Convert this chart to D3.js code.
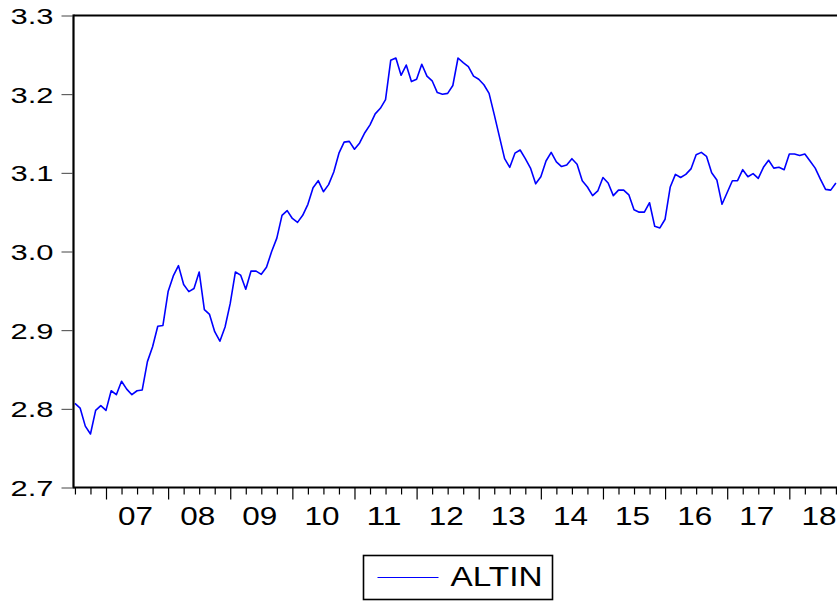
<!DOCTYPE html>
<html>
<head>
<meta charset="utf-8">
<script src="https://cdn.jsdelivr.net/npm/d3@7"></script>
<style>
  body { margin: 0; background: #fff; }
  svg { display: block; }
  text { font-family: Arial, "Liberation Sans", sans-serif; fill: #000; }
</style>
</head>
<body>
<svg id="chart" width="837" height="602"></svg>
<script>
// Monthly series, first observation 2006M07
const seriesName = "ALTIN";
const firstYear = 2006;
const firstMonth = 7;
const altin = [
  2.807, 2.801, 2.778, 2.768, 2.798, 2.804,
  2.798, 2.823, 2.818, 2.835, 2.825, 2.818, 2.823, 2.824, 2.860, 2.879, 2.905, 2.906,
  2.949, 2.969, 2.982, 2.958, 2.949, 2.953, 2.974, 2.926, 2.920, 2.898, 2.886, 2.904,
  2.934, 2.974, 2.970, 2.952, 2.975, 2.975, 2.971, 2.980, 3.000, 3.017, 3.046, 3.052,
  3.042, 3.037, 3.046, 3.060, 3.081, 3.090, 3.076, 3.085, 3.101, 3.125, 3.139, 3.140,
  3.130, 3.138, 3.151, 3.161, 3.175, 3.182, 3.193, 3.243, 3.246, 3.224, 3.237, 3.216,
  3.219, 3.238, 3.223, 3.217, 3.202, 3.200, 3.201, 3.211, 3.246, 3.240, 3.235, 3.223,
  3.219, 3.212, 3.201, 3.174, 3.146, 3.118, 3.107, 3.125, 3.129, 3.118, 3.106, 3.086,
  3.095, 3.115, 3.126, 3.114, 3.108, 3.110,
  3.118, 3.111, 3.090, 3.082, 3.071, 3.077, 3.094, 3.087, 3.071, 3.078, 3.078, 3.072,
  3.053, 3.050, 3.050, 3.062, 3.032, 3.030, 3.041, 3.082, 3.098, 3.094, 3.098, 3.105,
  3.123, 3.126, 3.121, 3.100, 3.091, 3.060, 3.075, 3.090, 3.090, 3.104, 3.095, 3.099,
  3.093, 3.107, 3.116, 3.106, 3.107, 3.104, 3.124, 3.124, 3.122, 3.124, 3.115, 3.106,
  3.092, 3.079, 3.078, 3.087
];
const yearLabels = ["07", "08", "09", "10", "11", "12", "13", "14", "15", "16", "17", "18"];
const yTicks = [2.7, 2.8, 2.9, 3.0, 3.1, 3.2, 3.3];

const svg = d3.select("#chart");

const frame = { left: 73.5, top: 15.5, bottom: 487.5, right: 846 };
const pxPerYear = 62.12;
const firstLabelYear = 2007;

// time in decimal years -> pixel
const x = d3.scaleLinear()
  .domain([firstLabelYear, firstLabelYear + 11])
  .range([106, 106 + 11 * pxPerYear]);
const y = d3.scaleLinear().domain([2.7, 3.3]).range([frame.bottom, frame.top]);

const t = i => firstYear + (firstMonth - 1) / 12 + i / 12;

// clip to plot area
svg.append("defs").append("clipPath").attr("id", "plotClip")
  .append("rect")
  .attr("x", frame.left).attr("y", frame.top)
  .attr("width", frame.right - frame.left).attr("height", frame.bottom - frame.top);

// series line
svg.append("path")
  .datum(altin)
  .attr("clip-path", "url(#plotClip)")
  .attr("fill", "none")
  .attr("stroke", "#0000ff")
  .attr("stroke-width", 1.6)
  .attr("stroke-linejoin", "round")
  .attr("d", d3.line().x((d, i) => x(t(i))).y(d => y(d)));

// left axis ticks and labels
const yAxis = svg.append("g")
  .attr("transform", `translate(${frame.left - 1},0)`)
  .call(d3.axisLeft(y).tickValues(yTicks).tickFormat(d3.format(".1f"))
    .tickSize(11).tickSizeOuter(0).tickPadding(8));
yAxis.select(".domain").remove();
yAxis.selectAll(".tick line").attr("stroke", "#444").attr("stroke-width", 1);
yAxis.selectAll(".tick text")
  .attr("font-size", 22)
  .attr("textLength", 43)
  .attr("lengthAdjust", "spacingAndGlyphs")
  .attr("dy", "0.36em");

// bottom axis: quarterly minor ticks, yearly major ticks
const quarters = d3.range(2006.5, 2019.0, 0.25).filter(q => Math.abs(q - Math.round(q)) > 1e-6);
const years = d3.range(2007, 2019);

const xMinor = svg.append("g")
  .attr("transform", `translate(0,${frame.bottom})`)
  .call(d3.axisBottom(x).tickValues(quarters).tickSize(7).tickSizeOuter(0).tickFormat(""));
xMinor.select(".domain").remove();
xMinor.selectAll(".tick line").attr("stroke", "#000").attr("stroke-width", 1.2);

const xMajor = svg.append("g")
  .attr("transform", `translate(0,${frame.bottom})`)
  .call(d3.axisBottom(x).tickValues(years).tickSize(12).tickSizeOuter(0).tickFormat(""));
xMajor.select(".domain").remove();
xMajor.selectAll(".tick line").attr("stroke", "#000").attr("stroke-width", 1.2);

const xLabels = svg.append("g")
  .attr("transform", `translate(-2,${frame.bottom})`)
  .call(d3.axisBottom(x).tickValues(years.map(yr => yr + 0.5))
    .tickSize(0).tickSizeOuter(0).tickPadding(20)
    .tickFormat((d, i) => yearLabels[i]));
xLabels.select(".domain").remove();
xLabels.selectAll(".tick text")
  .attr("font-size", 25)
  .attr("textLength", 35)
  .attr("lengthAdjust", "spacingAndGlyphs");

// frame: left, top, bottom borders
const border = svg.append("g").attr("stroke", "#000").attr("stroke-width", 2.2).attr("fill", "none");
border.append("line").attr("x1", frame.left).attr("x2", frame.left).attr("y1", frame.top - 1).attr("y2", frame.bottom + 1);
border.append("line").attr("x1", frame.left).attr("x2", frame.right).attr("y1", frame.top).attr("y2", frame.top);
border.append("line").attr("x1", frame.left).attr("x2", frame.right).attr("y1", frame.bottom).attr("y2", frame.bottom);

// legend
const legend = svg.append("g");
legend.append("rect")
  .attr("x", 363.5).attr("y", 555.5).attr("width", 189).attr("height", 44)
  .attr("fill", "#fff").attr("stroke", "#000").attr("stroke-width", 1.6);
legend.append("line")
  .attr("x1", 377.5).attr("x2", 438.5).attr("y1", 577.5).attr("y2", 577.5)
  .attr("stroke", "#0000ff").attr("stroke-width", 1.2);
legend.append("text")
  .attr("x", 450.5).attr("y", 586)
  .attr("font-size", 27)
  .attr("textLength", 92)
  .attr("lengthAdjust", "spacingAndGlyphs")
  .text(seriesName);
</script>
</body>
</html>
